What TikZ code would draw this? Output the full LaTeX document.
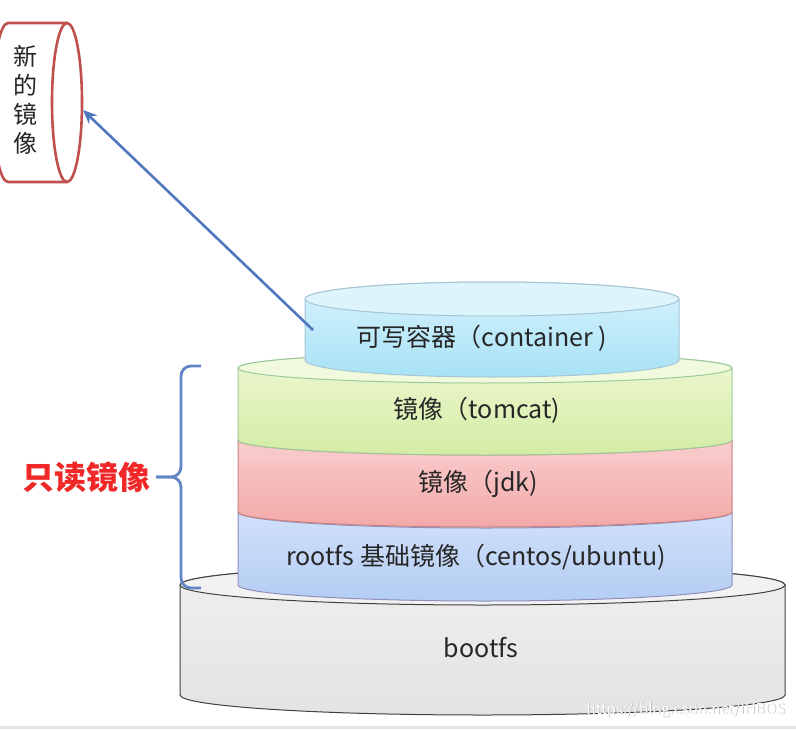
\documentclass[tikz,border=0pt]{standalone}
\usepackage{fontspec}
\setmainfont{Noto Sans CJK SC}
\usepackage{tikz}
\usetikzlibrary{arrows.meta, positioning}
\definecolor{txt}{RGB}{38, 38, 38}
\definecolor{newred}{RGB}{192, 80, 77}
\definecolor{arrblue}{RGB}{79, 120, 190}
\definecolor{rored}{RGB}{240, 40, 40}
\tikzset{
    layertext/.style = {text=txt, inner sep=0pt, font=\fontsize{12.5}{14}\selectfont},
    newtext/.style = {text=txt, inner sep=0pt, align=center, font=\fontsize{12}{14.5}\selectfont},
    rolabel/.style = {text=rored, inner sep=0pt, font=\fontsize{16}{18}\selectfont\bfseries},
    wmark/.style = {text=white, inner sep=0pt, font=\fontsize{7.5}{8}\selectfont},
    wshadow/.style = {text=gray!70, inner sep=0pt, font=\fontsize{7.5}{8}\selectfont},
    newimg/.style = {draw=newred, line width=1.3pt, fill=white},
    newarrow/.style = {draw=arrblue, line width=1.3pt, -{Stealth[length=7pt, width=6pt]}},
    robrace/.style = {draw=arrblue!90!white, line width=1.4pt, rounded corners=5pt},
    graybody/.style = {draw=black!75, line width=0.5pt, top color=gray!12, bottom color=gray!22},
    graytop/.style = {draw=black!75, line width=0.5pt, fill=gray!10},
    bluebody/.style = {draw=blue!25!gray!70, line width=0.5pt, top color={rgb,255:red,214;green,228;blue,251},
      bottom color={rgb,255:red,180;green,205;blue,243}},
    bluetop/.style = {draw=blue!25!gray!70, line width=0.5pt, fill={rgb,255:red,220;green,232;blue,252}},
    pinkbody/.style = {draw=red!40!gray!70, line width=0.5pt, top color={rgb,255:red,250;green,212;blue,212},
      bottom color={rgb,255:red,243;green,168;blue,168}},
    pinktop/.style = {draw=red!40!gray!70, line width=0.5pt, fill={rgb,255:red,251;green,222;blue,222}},
    greenbody/.style = {draw=green!30!gray!60, line width=0.5pt, top color={rgb,255:red,238;green,248;blue,210},
      bottom color={rgb,255:red,212;green,236;blue,165}},
    greentop/.style = {draw=green!30!gray!60, line width=0.5pt, fill={rgb,255:red,242;green,250;blue,222}},
    cyanbody/.style = {draw=cyan!40!gray!60, line width=0.5pt, top color={rgb,255:red,215;green,242;blue,252},
      bottom color={rgb,255:red,168;green,226;blue,246}},
    cyantop/.style = {draw=cyan!40!gray!60, line width=0.5pt, fill={rgb,255:red,222;green,244;blue,252}}
}
% drum: centre x, top y, bottom y, x radius, y radius, colour prefix
\newcommand{\drum}[6]{%
  \draw[#6body] ({#1-#4},#2) -- ({#1-#4},#3)
    arc[start angle=180, end angle=360, x radius=#4, y radius=#5] -- ({#1+#4},#2)
    arc[start angle=0, end angle=180, x radius=#4, y radius=#5] -- cycle;
  \draw[#6top] (#1,#2) ellipse [x radius=#4, y radius=#5];
}

\begin{document}
\begin{tikzpicture}[x=0.5pt, y=0.5pt]
\useasboundingbox (0,0) rectangle (796,729);
\clip (0,0) rectangle (796,729);
\fill[white] (0,0) rectangle (796,729);
\fill[gray!20] (0,0) rectangle (796,3);

% layers, bottom to top
\drum{482.5}{144}{34}{302.5}{20}{gray}
\drum{485}{217}{144}{247}{16}{blue}
\drum{485}{289}{217}{247}{15}{pink}
\drum{485}{361}{289}{247}{15}{green}
\drum{492}{430}{369}{187}{17}{cyan}

\node[layertext] (boot) at (481,81) {bootfs};
\node[layertext] (root) at (476,172) {rootfs 基础镜像（centos/ubuntu)};
\node[layertext] (jdk) at (478,245) {镜像（jdk)};
\node[layertext] (tomcat) at (477,319) {镜像（tomcat)};
\node[layertext] (ctr) at (482,391) {可写容器（container )};

% new image
\draw[newimg] (67,706) -- (8,706) arc[start angle=90, end angle=270, x radius=15, y radius=79.5] -- (67,547);
\draw[newimg] (67,626.5) ellipse [x radius=15, y radius=79.5];
\node[newtext] (newimage) at (25,629) {新\\的\\镜\\像};

\coordinate (ctr-w) at (313,399);
\coordinate (new-e) at (83,619);
\draw[newarrow] (ctr-w) -- (new-e);

% read-only brace
\coordinate (ro-bot) at (201,141);
\coordinate (ro-top) at (201,363);
\coordinate (ro-tip) at (156,252);
\draw[robrace] (ro-top) -- (181,363) -- (181,252) -- (ro-tip);
\draw[robrace] (ro-bot) -- (181,141) -- (181,252) -- (ro-tip);
\node[rolabel, left=2.5pt of ro-tip] (ro) {只读镜像};

\node[wshadow, anchor=east] (wm-s) at (786.5,18.5) {https://blog.csdn.net/IHBOS};
\node[wmark, anchor=east] (wm) at (786,19) {https://blog.csdn.net/IHBOS};
\end{tikzpicture}
\end{document}
